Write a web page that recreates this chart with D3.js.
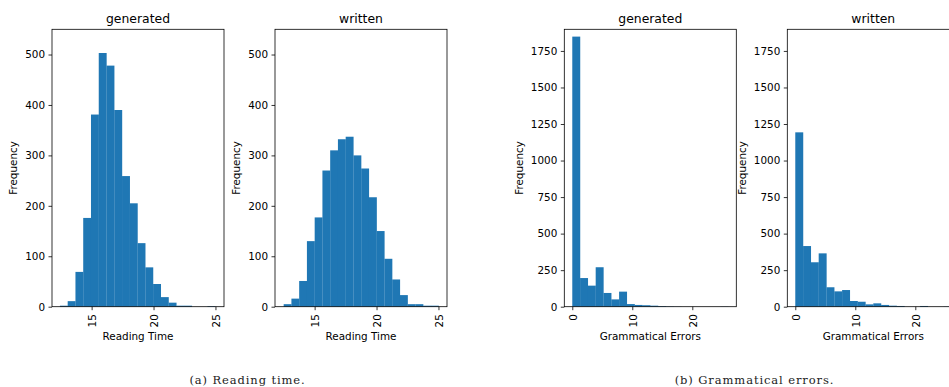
<!DOCTYPE html>
<html>
<head>
<meta charset="utf-8">
<script src="https://cdn.jsdelivr.net/npm/d3@7"></script>
<style>
  html, body { margin: 0; padding: 0; background: #fff; }
  svg { display: block; }
  text { font-family: "DejaVu Sans", sans-serif; fill: #000; }
</style>
</head>
<body>
<svg id="chart" width="949" height="387"></svg>
<script>
// ---- data ----
const panelTitles = ["generated", "written", "generated", "written"];
const xLabels = ["Reading Time", "Grammatical Errors"];
const yLabel = "Frequency";
const captions = ["(a) Reading time.", "(b) Grammatical errors."];

// histogram counts (20 bins each)
const readingGenerated = [2, 11, 69, 176, 381, 503, 478, 390, 259, 205, 126, 78, 45, 19, 8, 2, 2, 0, 0, 1];
const readingWritten   = [5, 16, 51, 130, 177, 270, 310, 332, 337, 300, 274, 217, 150, 95, 54, 23, 5, 5, 2, 2];
const errorsGenerated  = [1848, 196, 144, 270, 94, 50, 103, 18, 12, 10, 7, 4, 2, 1, 0, 0, 0, 0, 0, 1];
const errorsWritten    = [1193, 415, 304, 365, 133, 105, 114, 39, 34, 16, 23, 12, 7, 5, 0, 0, 5, 0, 0, 1];

// bin starts and widths (data units)
const binStarts = [12.44, 12.5, 0, 0];
const binWidths = [0.627, 0.626, 1.3, 1.3];

// axis domains and ticks
const readingXDomain = [11.8, 25.69];
const readingYDomain = [0, 550];
const errorsXDomain = [-1.33, 27.33];
const errorsYDomain = [0, 1898];
const readingXTicks = [15, 20, 25];
const readingYTicks = [0, 100, 200, 300, 400, 500];
const errorsXTicks = [0, 10, 20];
const errorsYTicks = [0, 250, 500, 750, 1000, 1250, 1500, 1750];

// ---- layout ----
const svg = d3.select("#chart");
svg.append("rect").attr("width", 949).attr("height", 387).attr("fill", "#fff");

const axTop = 29.3, axBottom = 306.7, axW = 172;
const lefts = [52, 275, 564.3, 787.3];
const barColor = "#1f77b4";

const panels = [
  { counts: readingGenerated, xd: readingXDomain, yd: readingYDomain, xt: readingXTicks, yt: readingYTicks, xl: xLabels[0], ylOff: 35 },
  { counts: readingWritten,   xd: readingXDomain, yd: readingYDomain, xt: readingXTicks, yt: readingYTicks, xl: xLabels[0], ylOff: 35 },
  { counts: errorsGenerated,  xd: errorsXDomain,  yd: errorsYDomain,  xt: errorsXTicks,  yt: errorsYTicks,  xl: xLabels[1], ylOff: 41 },
  { counts: errorsWritten,    xd: errorsXDomain,  yd: errorsYDomain,  xt: errorsXTicks,  yt: errorsYTicks,  xl: xLabels[1], ylOff: 41 }
];

panels.forEach((p, i) => {
  const L = lefts[i];
  const x = d3.scaleLinear().domain(p.xd).range([L, L + axW]);
  const y = d3.scaleLinear().domain(p.yd).range([axBottom, axTop]);
  const g = svg.append("g");

  const bins = p.counts.map((c, k) => ({
    x0: binStarts[i] + k * binWidths[i],
    x1: binStarts[i] + (k + 1) * binWidths[i],
    c
  }));

  g.append("g").selectAll("rect").data(bins).join("rect")
    .attr("x", d => x(d.x0))
    .attr("width", d => x(d.x1) - x(d.x0) + 0.15)
    .attr("y", d => y(d.c))
    .attr("height", d => y(0) - y(d.c))
    .attr("fill", barColor);

  // axes
  const xa = g.append("g").attr("transform", `translate(0,${axBottom})`)
    .call(d3.axisBottom(x).tickValues(p.xt).tickFormat(d3.format("d")).tickSize(3.5).tickPadding(3.5));
  xa.select(".domain").remove();
  xa.selectAll("text")
    .attr("transform", "rotate(-90)")
    .attr("text-anchor", "end")
    .attr("x", -7.5).attr("y", 0).attr("dy", "0.36em")
    .style("font-size", "10.4px").style("fill", "#000")
    .style("font-family", "DejaVu Sans");
  xa.selectAll("line").attr("stroke", "#000").attr("stroke-width", 0.8);

  const ya = g.append("g").attr("transform", `translate(${L},0)`)
    .call(d3.axisLeft(y).tickValues(p.yt).tickFormat(d3.format("d")).tickSize(3.5).tickPadding(3.5));
  ya.select(".domain").remove();
  ya.selectAll("text").style("font-size", "10.4px").style("fill", "#000").style("font-family", "DejaVu Sans");
  ya.selectAll("line").attr("stroke", "#000").attr("stroke-width", 0.8);

  // frame
  g.append("rect")
    .attr("x", L).attr("y", axTop)
    .attr("width", axW).attr("height", axBottom - axTop)
    .attr("fill", "none").attr("stroke", "#000").attr("stroke-width", 0.8);

  // title
  g.append("text")
    .attr("x", L + axW / 2).attr("y", 22.5)
    .attr("text-anchor", "middle")
    .style("font-size", "12.4px")
    .text(panelTitles[i]);

  // x label
  g.append("text")
    .attr("x", L + axW / 2).attr("y", 339.5)
    .attr("text-anchor", "middle")
    .style("font-size", "10.4px")
    .text(p.xl);

  // y label
  g.append("text")
    .attr("transform", `translate(${L - p.ylOff},${(axTop + axBottom) / 2}) rotate(-90)`)
    .attr("text-anchor", "middle")
    .style("font-size", "10.4px")
    .text(yLabel);
});

// captions
const captionX = [247.5, 754.5];
captions.forEach((c, i) => {
  svg.append("text")
    .attr("x", captionX[i]).attr("y", 384)
    .attr("text-anchor", "middle")
    .style("font-family", "'DejaVu Serif', serif")
    .style("font-size", "11.5px")
    .style("letter-spacing", "0.9px")
    .style("fill", "#222")
    .text(c);
});
</script>
</body>
</html>
